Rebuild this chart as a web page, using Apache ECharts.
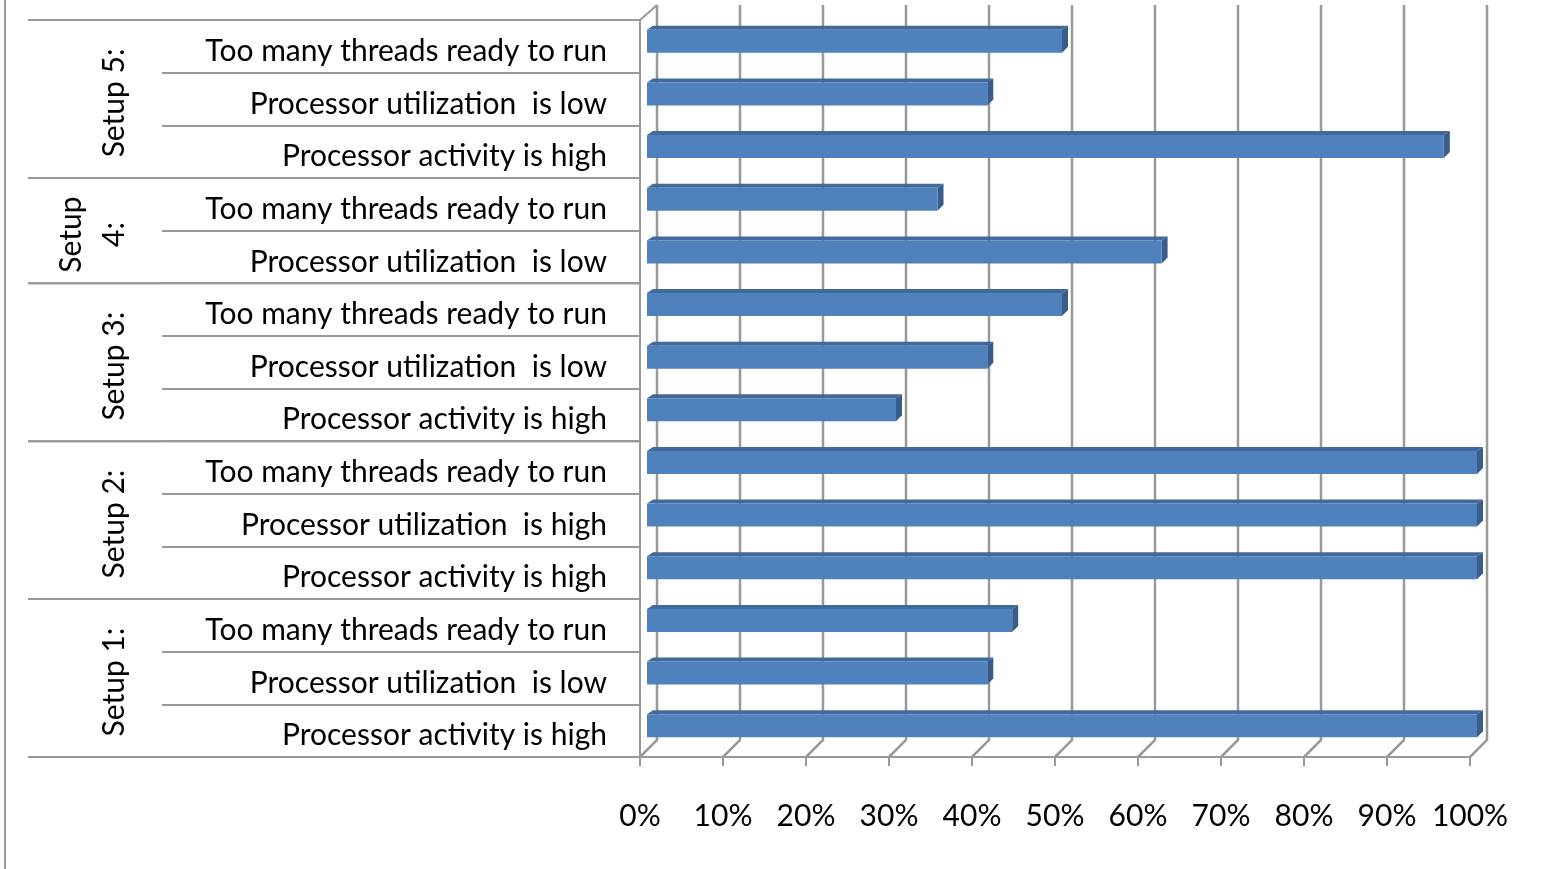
<!DOCTYPE html>
<html>
<head>
<meta charset="utf-8">
<script src="https://cdn.jsdelivr.net/npm/echarts@6/dist/echarts.min.js"></script>
<style>
    html, body { margin: 0; padding: 0; background: #ffffff; }
    #chart { width: 1566px; height: 869px; }
</style>
</head>
<body>
<div id="chart"></div>
<script>
    // categories, top to bottom
    var categories = [
        'Too many threads ready to run', 'Processor utilization  is low', 'Processor activity is high',
        'Too many threads ready to run', 'Processor utilization  is low',
        'Too many threads ready to run', 'Processor utilization  is low', 'Processor activity is high',
        'Too many threads ready to run', 'Processor utilization  is high', 'Processor activity is high',
        'Too many threads ready to run', 'Processor utilization  is low', 'Processor activity is high'
    ];
    var values = [0.50, 0.41, 0.96, 0.35, 0.62, 0.50, 0.41, 0.30, 1.00, 1.00, 1.00, 0.44, 0.41, 1.00];
    var groupNames = ['Setup 5:', 'Setup\n4:', 'Setup 3:', 'Setup 2:', 'Setup 1:'];
    var groupSizes = [3, 2, 3, 3, 3];
    var tickValues = [0, 0.1, 0.2, 0.3, 0.4, 0.5, 0.6, 0.7, 0.8, 0.9, 1.0];

    var FONT = 'Lato, "Open Sans", sans-serif';
    var FS = 30;
    var DEPTH = 17;        // 3D wall offset
    var GRID_COLOR = '#999999';

    var groupData = [];
    var start = 0;
    groupSizes.forEach(function (n, i) {
        groupData.push([start, n, i]);
        start += n;
    });

    var chart = echarts.init(document.getElementById('chart'));

    function renderWall(params, api) {
        var cs = params.coordSys;
        var v = api.value(0);
        var x = api.coord([v, 0])[0];
        var bottom = cs.y + cs.height;
        var top = cs.y;
        var children = [
            { type: 'polyline', shape: { points: [[x, bottom], [x + DEPTH, bottom - DEPTH], [x + DEPTH, top - DEPTH + 2]] },
              style: { stroke: GRID_COLOR, lineWidth: 2.5, fill: null } }
        ];
        if (params.dataIndex === 0) {
            children.push({ type: 'line', shape: { x1: x, y1: top, x2: x + DEPTH, y2: top - DEPTH + 2 },
                style: { stroke: GRID_COLOR, lineWidth: 2 } });
        }
        return { type: 'group', children: children };
    }

    function renderBar(params, api) {
        var cat = api.value(1);
        var p0 = api.coord([0, cat]);
        var p1 = api.coord([api.value(0), cat]);
        var dx = 7, dy = -5, h = 23, d = 6;
        var x0 = p0[0] + dx, x1 = p1[0] + dx;
        var y0 = p0[1] + dy - h / 2, y1 = y0 + h;
        return {
            type: 'group',
            children: [
                { type: 'polygon', shape: { points: [[x0, y0], [x0 + d, y0 - 4], [x1 + d, y0 - 4], [x1, y0]] },
                  style: { fill: '#42699b' } },
                { type: 'polygon', shape: { points: [[x1, y0], [x1 + d, y0 - 4], [x1 + d, y1 - 6], [x1, y1]] },
                  style: { fill: '#385d8a' } },
                { type: 'rect', shape: { x: x0, y: y0, width: x1 - x0, height: h },
                  style: { fill: '#4f81bd' } }
            ]
        };
    }

    function renderGroup(params, api) {
        var cs = params.coordSys;
        var s = api.value(0), n = api.value(1);
        var band = api.size([0, 1])[1];
        var yTop = api.coord([0, s])[1] - band / 2;
        var yBot = yTop + band * n;
        var name = groupNames[api.value(2)];
        var lines = name.split('\n').length;
        var lh = 43;
        var children = [
            { type: 'line', shape: { x1: 28, y1: yTop, x2: cs.x, y2: yTop }, style: { stroke: GRID_COLOR, lineWidth: 2 } },
            { type: 'line', shape: { x1: 28, y1: yBot, x2: cs.x, y2: yBot }, style: { stroke: GRID_COLOR, lineWidth: 2 } },
            { type: 'text', x: 114 - (lines - 1) * lh / 2, y: (yTop + yBot) / 2 + 4, rotation: Math.PI / 2,
              style: { text: name, fill: '#000', fontSize: FS, fontFamily: FONT, lineHeight: lh,
                       align: 'center', verticalAlign: 'middle' } }
        ];
        return { type: 'group', children: children };
    }

    var option = {
        animation: false,
        backgroundColor: '#ffffff',
        grid: { left: 640, right: 96, top: 20, bottom: 112 },
        xAxis: {
            type: 'value', min: 0, max: 1, interval: 0.1,
            axisLine: { show: true, lineStyle: { color: GRID_COLOR, width: 2 } },
            axisTick: { show: true, length: 9, lineStyle: { color: GRID_COLOR, width: 2 } },
            splitLine: { show: false },
            axisLabel: {
                margin: 44, fontSize: FS, color: '#000', fontFamily: FONT,
                formatter: function (v) { return Math.round(v * 100) + '%'; }
            }
        },
        yAxis: {
            type: 'category', inverse: true, data: categories,
            axisLine: { show: true, lineStyle: { color: GRID_COLOR, width: 2 } },
            axisTick: { show: true, length: 478, lineStyle: { color: GRID_COLOR, width: 2 } },
            axisLabel: {
                margin: 33, color: '#000',
                formatter: function (v) { return '{t|' + v + '}'; },
                rich: { t: { fontSize: FS, fontFamily: FONT, color: '#000', padding: [10, 0, 0, 0] } }
            }
        },
        graphic: [
            { type: 'line', shape: { x1: 5, y1: 0, x2: 5, y2: 869 }, style: { stroke: GRID_COLOR, lineWidth: 2 } }
        ],
        series: [
            { type: 'custom', name: 'wall', clip: false, z: 1, silent: true,
              encode: { x: 0 }, data: tickValues.map(function (v) { return [v]; }), renderItem: renderWall },
            { type: 'custom', name: 'groups', clip: false, z: 1, silent: true,
              encode: { y: 0 }, data: groupData, renderItem: renderGroup },
            { type: 'custom', name: 'bars', clip: false, z: 3,
              encode: { x: 0, y: 1 },
              data: values.map(function (v, i) { return [v, i]; }), renderItem: renderBar }
        ]
    };
    chart.setOption(option);
</script>
</body>
</html>
